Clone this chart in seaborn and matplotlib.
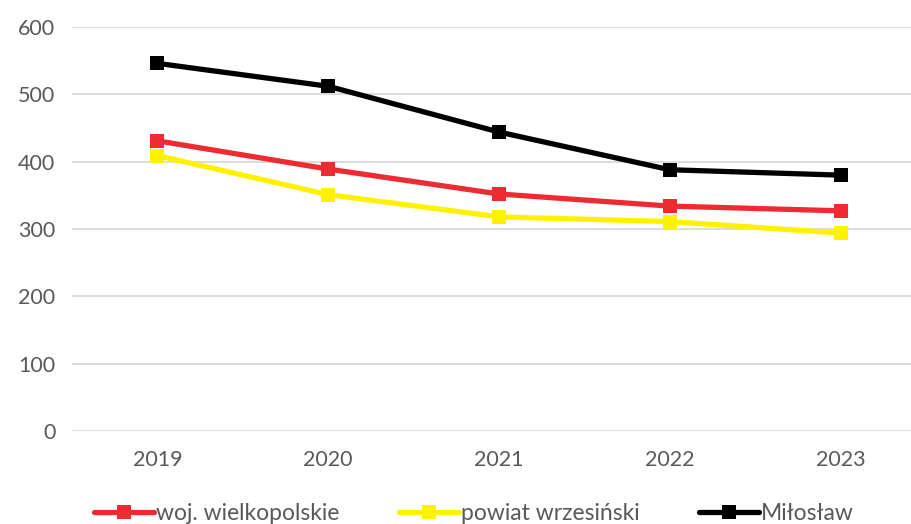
import pandas as pd
import matplotlib.pyplot as plt
import seaborn as sns

years = ["2019", "2020", "2021", "2022", "2023"]
woj = [431, 389, 352, 334, 327]
powiat = [409, 351, 318, 311, 294]
miloslaw = [546, 512, 444, 388, 380]
series_names = ["woj. wielkopolskie", "powiat wrzesiński", "Miłosław"]
colors = ["#EE2B33", "#FFF200", "#000000"]

df = pd.DataFrame({
    "Rok": years * 3,
    "Wartość": woj + powiat + miloslaw,
    "Seria": [series_names[0]] * 5 + [series_names[1]] * 5 + [series_names[2]] * 5,
})

sns.set_style("white")
plt.rcParams["font.family"] = ["Lato", "DejaVu Sans"]

fig = plt.figure(figsize=(9.12, 5.24), dpi=100)
ax = fig.add_axes([72 / 912, (524 - 431) / 524, (926 - 72) / 912, (431 - 27) / 524])

sns.lineplot(data=df, x="Rok", y="Wartość", hue="Seria", style="Seria",
             palette=colors, markers=["s", "s", "s"], dashes=False,
             linewidth=3.8, markersize=10, markeredgewidth=0, ax=ax, sort=False)

ax.set_xlim(-0.5, 4.5)
ax.set_ylim(0, 600)
ax.set_yticks(range(0, 601, 100))
ax.yaxis.grid(True, color="#D9D9D9", linewidth=1.3)
ax.set_axisbelow(True)
for s in ax.spines.values():
    s.set_visible(False)
ax.tick_params(axis="both", length=0, labelsize=15.5, labelcolor="#595959")
ax.tick_params(axis="x", pad=14)
ax.tick_params(axis="y", pad=12)
ax.set_xlabel("")
ax.set_ylabel("")

handles, labels = ax.get_legend_handles_labels()
ax.legend(handles, labels, loc="center", bbox_to_anchor=(0.52, 10 / 524),
          bbox_transform=fig.transFigure, ncol=3, frameon=False,
          fontsize=16.5, labelcolor="#595959", handlelength=2.6,
          handletextpad=0.1, columnspacing=2.6)

fig.savefig("out.png", dpi=100)
